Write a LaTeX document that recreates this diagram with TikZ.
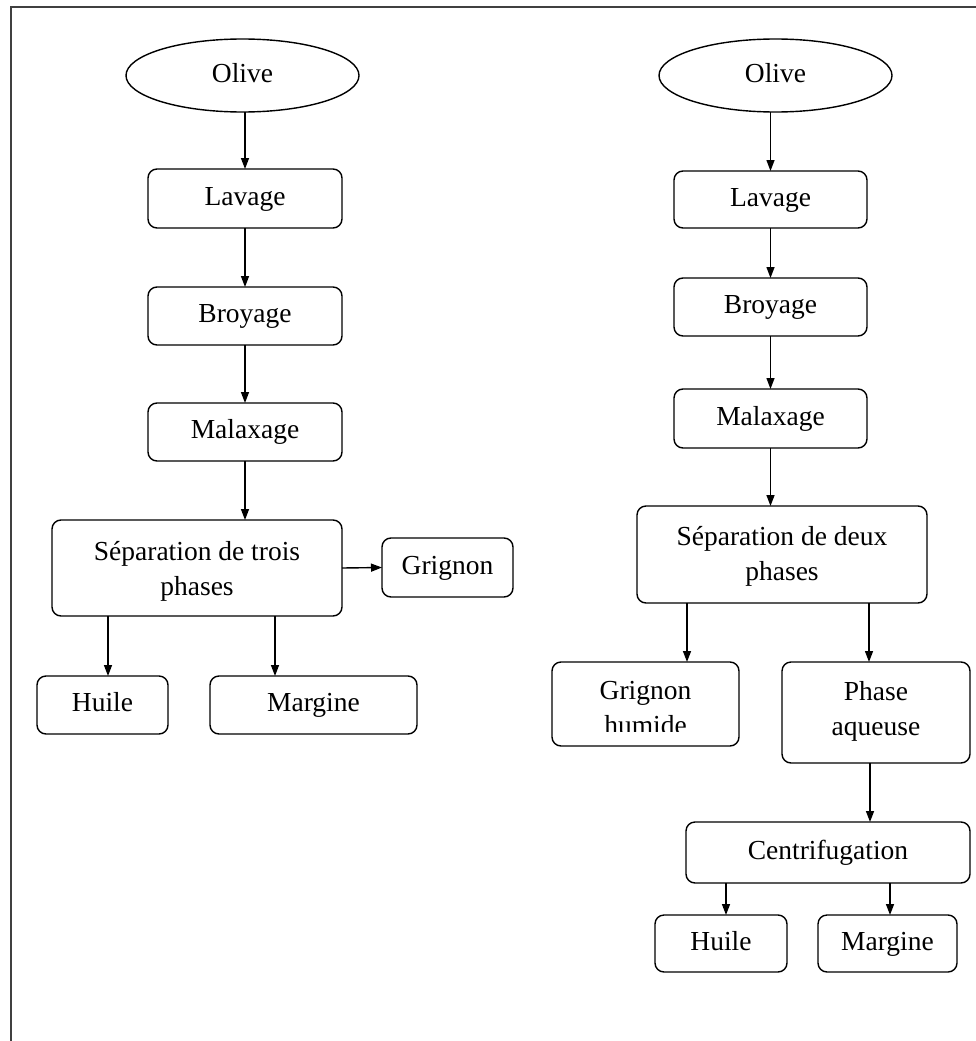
\documentclass[tikz,border=0pt]{standalone}
\usepackage{fontspec}
\setmainfont{Liberation Serif}
\usetikzlibrary{arrows.meta,shapes.geometric}
\tikzset{
  lbl/.style={font=\fontsize{27.5}{35}\selectfont, align=center, inner sep=0pt, outer sep=0pt, text height=19pt, text depth=6pt},
  two/.style={text height=54pt, text depth=#1},
  stepbox/.style={lbl, draw, line width=1.4pt, rounded corners=9pt},
  oval/.style={lbl, draw, ellipse, line width=1.4pt},
  arr/.style={line width=1.4pt, -{Triangle[length=11pt,width=8pt]}},
  frame/.style={line width=2pt, draw=black!75}
}
\begin{document}
\begin{tikzpicture}[x=1pt,y=-1pt]
\useasboundingbox (0,0) rectangle (976,1041);
\draw[frame] (980,7) -- (11,7) -- (11,1045);

% left column
\node[oval, minimum width=233, minimum height=73] (olA) at (242.5,75.5) {Olive};
\node[stepbox, minimum width=194, minimum height=59] (lavA) at (245,198.5) {Lavage};
\node[stepbox, minimum width=194, minimum height=58] (broA) at (245,316) {Broyage};
\node[stepbox, minimum width=194, minimum height=58] (malA) at (245,432) {Malaxage};
\node[stepbox, two=0pt, minimum width=290, minimum height=96] (sepA) at (197,568) {Séparation de trois\\phases};
\node[stepbox, minimum width=131, minimum height=59] (griA) at (447.5,567.5) {Grignon};
\node[stepbox, minimum width=131, minimum height=58] (huiA) at (102.5,705) {Huile};
\node[stepbox, minimum width=207, minimum height=58] (marA) at (313.5,705) {Margine};

\draw[arr] (olA.south -| lavA.north) -- (lavA.north);
\draw[arr] (lavA) -- (broA);
\draw[arr] (broA) -- (malA);
\draw[arr] (malA.south) -- (malA.south |- sepA.north);
\draw[arr] (sepA.east) -- (griA.west);
\draw[arr] ([xshift=-89pt]sepA.south) -- ([xshift=5.5pt]huiA.north);
\draw[arr] ([xshift=78pt]sepA.south) -- ([xshift=-38.5pt]marA.north);

% right column
\node[oval, minimum width=233, minimum height=73] (olB) at (775.5,75.5) {Olive};
\node[stepbox, minimum width=193, minimum height=57] (lavB) at (770.5,199.5) {Lavage};
\node[stepbox, minimum width=193, minimum height=58] (broB) at (770.5,307) {Broyage};
\node[stepbox, minimum width=193, minimum height=59] (malB) at (770.5,418.5) {Malaxage};
\node[stepbox, two=2pt, minimum width=290, minimum height=97] (sepB) at (782,554.5) {Séparation de deux\\phases};
\node[stepbox, minimum width=187, minimum height=84] (ghB) at (645.5,704) {};
\begin{scope}
  \clip (552,662) rectangle (739,731);
  \node[lbl, two=2pt] (ghtxt) at (645.5,708) {Grignon\\humide};
\end{scope}
\node[stepbox, two=9pt, minimum width=188, minimum height=101] (paB) at (876,712.5) {Phase\\aqueuse};
\node[stepbox, minimum width=284, minimum height=61] (cenB) at (828,852.5) {Centrifugation};
\node[stepbox, minimum width=132, minimum height=57] (huiB) at (721,943.5) {Huile};
\node[stepbox, minimum width=139, minimum height=57] (marB) at (887.5,943.5) {Margine};

\draw[arr] (olB.south -| lavB.north) -- (lavB.north);
\draw[arr] (lavB) -- (broB);
\draw[arr] (broB) -- (malB);
\draw[arr] (malB.south) -- (malB.south |- sepB.north);
\draw[arr] ([xshift=-95pt]sepB.south) -- ([xshift=41.5pt]ghB.north);
\draw[arr] ([xshift=87pt]sepB.south) -- ([xshift=-7pt]paB.north);
\draw[arr] ([xshift=-6pt]paB.south) -- ([xshift=42pt]cenB.north);
\draw[arr] ([xshift=-102pt]cenB.south) -- ([xshift=5pt]huiB.north);
\draw[arr] ([xshift=62pt]cenB.south) -- ([xshift=2.5pt]marB.north);
\end{tikzpicture}
\end{document}
